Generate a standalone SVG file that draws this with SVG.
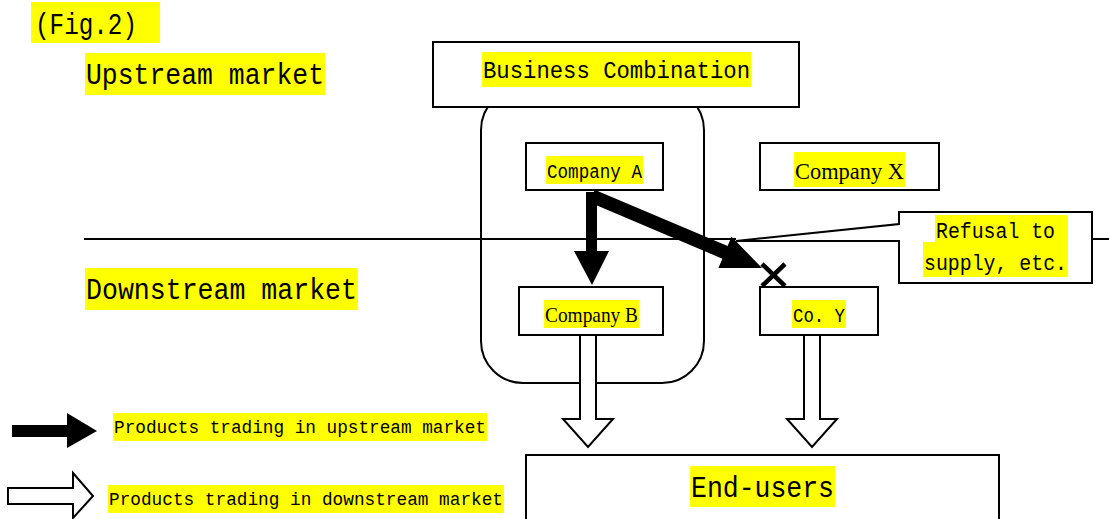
<svg xmlns="http://www.w3.org/2000/svg" width="1109" height="519" viewBox="0 0 1109 519">
  <style>
    .box { fill: #fff; stroke: #000; stroke-width: 2; }
    .frame { fill: none; stroke: #000; stroke-width: 2; }
    .hl { fill: #ffff00; }
    .mono { font-family: "Liberation Mono", "DejaVu Sans Mono", monospace; fill: #000; }
    .serif { font-family: "Liberation Serif", "DejaVu Serif", serif; fill: #000; }
    .solid { fill: #000; stroke: none; }
    .hollow { fill: #fff; stroke: #000; stroke-width: 2; stroke-linejoin: miter; }
    .rule { stroke: #000; stroke-width: 2; fill: none; }
  </style>

  <!-- figure caption and market labels -->
  <g id="caption">
    <rect class="hl" x="31" y="2" width="129" height="41"/>
    <text class="mono" x="35" y="34" font-size="29" textLength="102" lengthAdjust="spacingAndGlyphs">(Fig.2)</text>
  </g>
  <g id="label-upstream">
    <rect class="hl" x="85" y="53" width="240" height="42"/>
    <text class="mono" x="86" y="84" font-size="30" textLength="238" lengthAdjust="spacingAndGlyphs">Upstream market</text>
  </g>
  <g id="label-downstream">
    <rect class="hl" x="85" y="268" width="273" height="42"/>
    <text class="mono" x="86" y="299" font-size="30" textLength="271" lengthAdjust="spacingAndGlyphs">Downstream market</text>
  </g>

  <!-- market boundary line -->
  <g id="connectors">
    <line class="rule" x1="84" y1="239" x2="736" y2="239"/>
    <line class="rule" x1="1092" y1="239" x2="1109" y2="239"/>
  </g>

  <!-- business combination grouping -->
  <g id="combination-group">
    <rect class="frame" x="481" y="88" width="223" height="295" rx="42" ry="42"/>
  </g>
  <g id="business-combination">
    <rect class="box" x="433" y="42" width="366" height="65"/>
    <rect class="hl" x="482" y="52" width="269" height="35"/>
    <text class="mono" x="483" y="78" font-size="24" textLength="267" lengthAdjust="spacingAndGlyphs">Business Combination</text>
  </g>

  <!-- companies -->
  <g id="company-a">
    <rect class="box" x="526" y="143" width="137" height="47"/>
    <rect class="hl" x="546" y="156" width="97" height="28"/>
    <text class="mono" x="547" y="178" font-size="20" textLength="95" lengthAdjust="spacingAndGlyphs">Company A</text>
  </g>
  <g id="company-x">
    <rect class="box" x="760" y="143" width="179" height="47"/>
    <rect class="hl" x="794" y="152" width="111" height="35"/>
    <text class="serif" x="795" y="179" font-size="23" textLength="109" lengthAdjust="spacingAndGlyphs">Company X</text>
  </g>
  <g id="company-b">
    <rect class="box" x="519" y="287" width="144" height="48"/>
    <rect class="hl" x="544" y="300" width="95" height="28"/>
    <text class="serif" x="545" y="322" font-size="21" textLength="93" lengthAdjust="spacingAndGlyphs">Company B</text>
  </g>
  <g id="company-y">
    <rect class="box" x="760" y="287" width="118" height="48"/>
    <rect class="hl" x="792" y="300" width="54" height="28"/>
    <text class="mono" x="793" y="322" font-size="20" textLength="52" lengthAdjust="spacingAndGlyphs">Co. Y</text>
  </g>

  <!-- callout -->
  <g id="callout-refusal">
    <path class="box" d="M899,212 H1092 V283 H899 V241 H736 L899,224 Z"/>
    <rect class="hl" x="935" y="215" width="133" height="27"/>
    <rect class="hl" x="923" y="242" width="145" height="35"/>
    <text class="mono" x="936" y="238" font-size="22" textLength="119" lengthAdjust="spacingAndGlyphs">Refusal to</text>
    <text class="mono" x="924" y="270" font-size="22" textLength="143" lengthAdjust="spacingAndGlyphs">supply, etc.</text>
  </g>

  <!-- upstream product flows -->
  <g id="upstream-flows">
    <polygon class="solid" points="586,192 597,192 597,251 609,251 592,285 574,251 586,251"/>
    <polygon class="solid" points="589.4,202.3 594.6,189.7 727.6,246.1 731.6,236.7 762,268 718.4,268.1 722.4,258.7"/>
    <g stroke="#000" stroke-width="4.5">
      <line x1="762" y1="264" x2="785" y2="286"/>
      <line x1="785" y1="264" x2="762" y2="286"/>
    </g>
  </g>

  <!-- downstream product flows -->
  <g id="downstream-flows">
    <path class="hollow" d="M580,335 V419 H563 L588,447 L613,419 H596 V335 Z"/>
    <path class="hollow" d="M804,335 V419 H787 L812,447 L837,419 H820 V335 Z"/>
  </g>

  <!-- end users -->
  <g id="end-users">
    <rect class="box" x="526" y="455" width="473" height="75"/>
    <rect class="hl" x="690" y="466" width="145" height="41"/>
    <text class="mono" x="691" y="497" font-size="30" textLength="143" lengthAdjust="spacingAndGlyphs">End-users</text>
  </g>

  <!-- legend -->
  <g id="legend-upstream">
    <path class="solid" d="M12,425 H67 V413 L97,431 L67,448 V437 H12 Z"/>
    <rect class="hl" x="113" y="413" width="374" height="28"/>
    <text class="mono" x="114" y="433" font-size="19" textLength="372" lengthAdjust="spacingAndGlyphs">Products trading in upstream market</text>
  </g>
  <g id="legend-downstream">
    <path class="hollow" d="M8,488 H73 V473 L93,496 L73,518 V504 H8 Z"/>
    <rect class="hl" x="108" y="485" width="396" height="28"/>
    <text class="mono" x="109" y="505" font-size="19" textLength="394" lengthAdjust="spacingAndGlyphs">Products trading in downstream market</text>
  </g>
</svg>
